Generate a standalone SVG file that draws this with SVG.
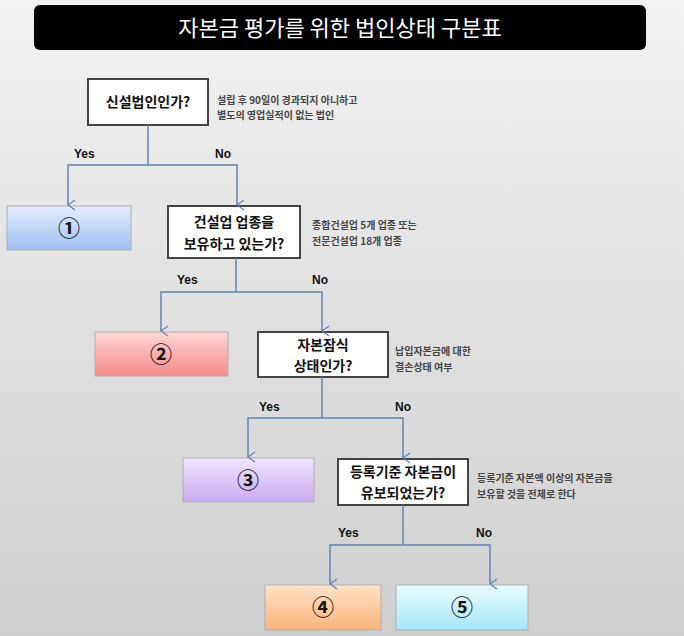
<svg xmlns="http://www.w3.org/2000/svg" width="684" height="636" viewBox="0 0 684 636">
<defs>
<linearGradient id="bg" x1="0" y1="0" x2="0" y2="1"><stop offset="0" stop-color="#f2f2f2"/><stop offset="1" stop-color="#cfcfcf"/></linearGradient>
<linearGradient id="g1" x1="0" y1="0" x2="0" y2="1"><stop offset="0" stop-color="#e4eeff"/><stop offset="1" stop-color="#9ec0f4"/></linearGradient>
<linearGradient id="g2" x1="0" y1="0" x2="0" y2="1"><stop offset="0" stop-color="#ffd6d6"/><stop offset="1" stop-color="#f58a8a"/></linearGradient>
<linearGradient id="g3" x1="0" y1="0" x2="0" y2="1"><stop offset="0" stop-color="#f1e6ff"/><stop offset="1" stop-color="#c9aaf0"/></linearGradient>
<linearGradient id="g4" x1="0" y1="0" x2="0" y2="1"><stop offset="0" stop-color="#ffe2c8"/><stop offset="1" stop-color="#fbb47a"/></linearGradient>
<linearGradient id="g5" x1="0" y1="0" x2="0" y2="1"><stop offset="0" stop-color="#e8fbff"/><stop offset="1" stop-color="#a6e8f8"/></linearGradient>
<marker id="ar" markerWidth="12" markerHeight="10" refX="6" refY="9" orient="auto-start-reverse" markerUnits="userSpaceOnUse"><path d="M1,2 L6,9 L11,2" fill="none" stroke="#5b86b8" stroke-width="1.3"/></marker>
</defs>
<style>
text{font-family:"Noto Sans CJK KR","Noto Sans",sans-serif;font-weight:bold;fill:#111}
.q{fill:#fff;stroke:#444;stroke-width:2}
.r{stroke:#b0b0b0;stroke-width:1}
.qt{font-size:14px;text-anchor:middle}
.n{font-size:22px;text-anchor:middle;font-weight:bold}
.a{font-size:10px;fill:#444}
.l{font-size:12px;font-family:"Liberation Sans",sans-serif}
.c{fill:none;stroke:#5b86b8;stroke-width:1.5;marker-end:url(#ar)}
.s{fill:none;stroke:#5b86b8;stroke-width:1.5}
</style>
<rect width="684" height="636" fill="url(#bg)"/>
<g id="title"><rect x="34" y="5" width="612" height="45" rx="6" fill="#000"/><text x="340" y="36" font-size="22" text-anchor="middle" style="fill:#fff;font-weight:normal">자본금 평가를 위한 법인상태 구분표</text></g>
<g id="q1"><rect class="q" x="88" y="79" width="120" height="46"/><text class="qt" x="148" y="107">신설법인인가?</text>
<text class="a" x="217" y="104">설립 후 90일이 경과되지 아니하고</text><text class="a" x="217" y="119">별도의 영업실적이 없는 법인</text></g>
<g id="r1"><rect class="r" x="7" y="206" width="124" height="44" fill="url(#g1)"/><text class="n" x="69" y="236">①</text></g>
<g id="q2"><rect class="q" x="168" y="206" width="132" height="52"/><text class="qt" x="234" y="227">건설업 업종을</text><text class="qt" x="234" y="249">보유하고 있는가?</text>
<text class="a" x="312" y="229">종합건설업 5개 업종 또는</text><text class="a" x="312" y="245">전문건설업 18개 업종</text></g>
<g id="r2"><rect class="r" x="95" y="332" width="133" height="44" fill="url(#g2)"/><text class="n" x="161" y="362">②</text></g>
<g id="q3"><rect class="q" x="258" y="332" width="130" height="45"/><text class="qt" x="323" y="350">자본잠식</text><text class="qt" x="323" y="371">상태인가?</text>
<text class="a" x="395" y="355">납입자본금에 대한</text><text class="a" x="395" y="371">결손상태 여부</text></g>
<g id="r3"><rect class="r" x="183" y="458" width="131" height="44" fill="url(#g3)"/><text class="n" x="248" y="488">③</text></g>
<g id="q4"><rect class="q" x="338" y="459" width="130" height="46"/><text class="qt" x="403" y="477">등록기준 자본금이</text><text class="qt" x="403" y="498">유보되었는가?</text>
<text class="a" x="477" y="482">등록기준 자본액 이상의 자본금을</text><text class="a" x="477" y="498">보유할 것을 전제로 한다</text></g>
<g id="r4"><rect class="r" x="265" y="585" width="116" height="45" fill="url(#g4)"/><text class="n" x="323" y="615">④</text></g>
<g id="r5"><rect class="r" x="396" y="585" width="132" height="45" fill="url(#g5)"/><text class="n" x="462" y="615">⑤</text></g>
<g id="connectors">
<path class="s" d="M148,125 V165"/>
<path class="c" d="M148,165 H68 V205"/><path class="c" d="M148,165 H237 V205"/>
<path class="s" d="M236,258 V292"/>
<path class="c" d="M236,292 H161 V331"/><path class="c" d="M236,292 H322 V331"/>
<path class="s" d="M322,377 V418"/>
<path class="c" d="M322,418 H248 V457"/><path class="c" d="M322,418 H403 V458"/>
<path class="s" d="M403,505 V545"/>
<path class="c" d="M403,545 H330 V584"/><path class="c" d="M403,545 H490 V584"/>
<text class="l" x="74" y="158">Yes</text><text class="l" x="215" y="158">No</text>
<text class="l" x="177" y="284">Yes</text><text class="l" x="312" y="284">No</text>
<text class="l" x="259" y="411">Yes</text><text class="l" x="395" y="411">No</text>
<text class="l" x="338" y="537">Yes</text><text class="l" x="476" y="537">No</text>
</g>
</svg>
